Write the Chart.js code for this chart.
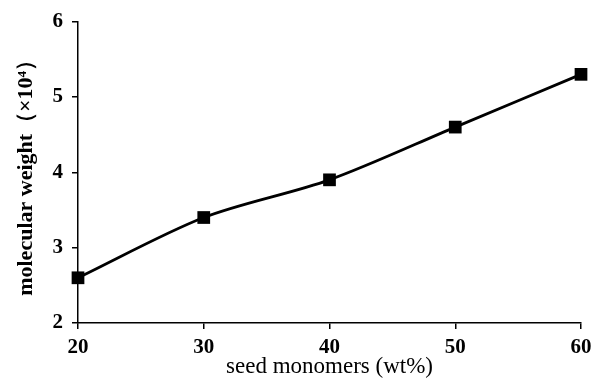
<!DOCTYPE html>
<html>
<head>
<meta charset="utf-8">
<script src="https://cdn.jsdelivr.net/npm/chart.js@4"></script>
<style>
  html, body { margin: 0; padding: 0; background: #fff; }
  #wrap { width: 594px; height: 381px; }
</style>
</head>
<body>
<div id="wrap"><canvas id="mwChart" width="594" height="381"></canvas></div>
<script>
// seed monomer content (wt%) vs molecular weight (x10^4)
const seedMonomers = [20, 30, 40, 50, 60];
const molWeight = [2.6, 3.4, 3.9, 4.6, 5.3];
const xTicks = [20, 30, 40, 50, 60];
const yTicks = [2, 3, 4, 5, 6];

const serif = '"Liberation Serif", "Times New Roman", serif';

const ctx = document.getElementById('mwChart').getContext('2d');
const mwChart = new Chart(ctx, {
  type: 'line',
  data: {
    datasets: [{
      data: seedMonomers.map((x, i) => ({ x: x, y: molWeight[i] })),
      borderColor: '#000',
      backgroundColor: '#000',
      borderWidth: 2.8,
      tension: 0.3,
      pointStyle: 'rect',
      pointRadius: 9,
      pointBorderWidth: 0,
      clip: false
    }]
  },
  options: {
    responsive: false,
    animation: false,
    layout: { padding: { top: 20, right: 0, left: 0, bottom: 0 } },
    plugins: { legend: { display: false }, tooltip: { enabled: false } },
    scales: {
      x: {
        type: 'linear',
        min: 20,
        max: 60,
        afterBuildTicks: s => { s.ticks = xTicks.map(v => ({ value: v })); },
        afterFit: s => { s.height = 58; s.paddingRight = 13; s.paddingLeft = 0; },
        border: { color: '#000', width: 1.5 },
        grid: { drawOnChartArea: false, drawTicks: true, tickLength: 6, color: '#000', lineWidth: 1.5 },
        ticks: { color: '#000', padding: 6, font: { family: serif, size: 21, weight: 'bold' }, maxRotation: 0 },
        title: {
          display: true,
          text: 'seed monomers (wt%)',
          color: '#000',
          padding: { top: 0, bottom: 0 },
          font: { family: serif, size: 23 }
        }
      },
      y: {
        min: 2,
        max: 6,
        afterBuildTicks: s => { s.ticks = yTicks.map(v => ({ value: v })); },
        afterFit: s => { s.width = 78; },
        border: { color: '#000', width: 1.5 },
        grid: { drawOnChartArea: false, drawTicks: true, tickLength: 6, color: '#000', lineWidth: 1.5 },
        ticks: { color: '#000', padding: 9, font: { family: serif, size: 21, weight: 'bold' } },
        title: {
          display: true,
          text: 'molecular weight（×10⁴）',
          color: '#000',
          padding: { top: 13, bottom: 0 },
          font: { family: serif, size: 22, weight: 'bold' }
        }
      }
    }
  }
});
</script>
</body>
</html>
